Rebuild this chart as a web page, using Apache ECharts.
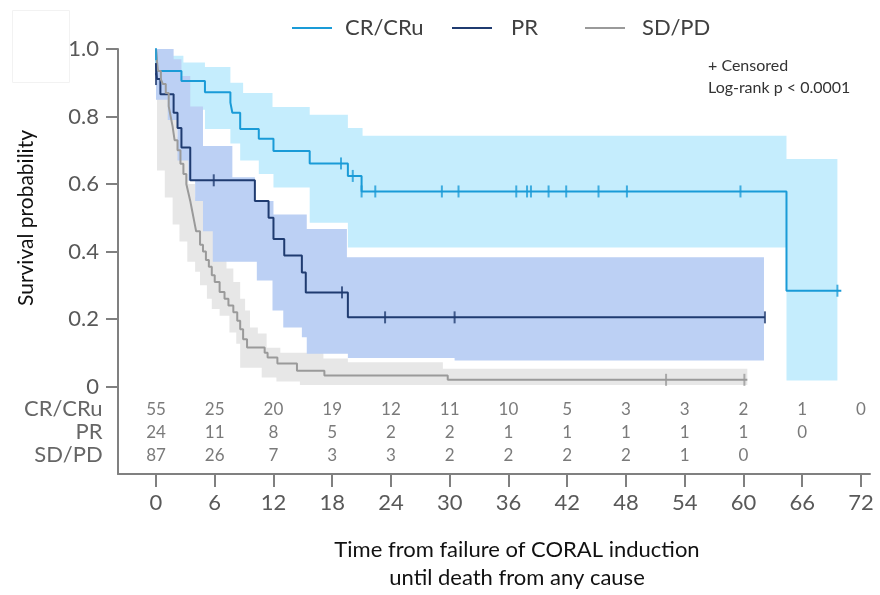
<!DOCTYPE html>
<html><head><meta charset="utf-8">
<script src="https://cdn.jsdelivr.net/npm/echarts@6/dist/echarts.min.js"></script>
<style>html,body{margin:0;padding:0;background:#fff}#c{width:880px;height:595px}</style>
</head><body><div id="c"></div>
<script>
// ---------- data ----------
const groupNames = ['CR/CRu', 'PR', 'SD/PD'];

// Kaplan-Meier step curves: [time (months), survival]
const crCurve = [[0,1.0],[0.1,0.935],[2.6,0.905],[5.0,0.872],[7.6,0.841],[7.8,0.811],[8.6,0.763],[10.5,0.734],[12.0,0.698],[15.7,0.661],[19.6,0.624],[21.0,0.578],[64.4,0.284]];
const crEnd = 70.0;
const prCurve = [[0,0.958],[0.1,0.911],[0.45,0.866],[1.8,0.811],[2.2,0.766],[2.6,0.708],[3.5,0.611],[10.1,0.55],[11.5,0.50],[12.0,0.437],[13.1,0.388],[14.9,0.338],[15.3,0.279],[19.6,0.205]];
const prEnd = 62.2;
const sdCurve = [[0,1.0],[0.1,0.964],[0.2,0.935],[0.5,0.91],[0.7,0.896],[1.0,0.87],[1.3,0.83],[1.5,0.80],[1.7,0.77],[1.9,0.73],[2.2,0.70],[2.5,0.66],[2.8,0.63],[3.1,0.60],[3.3,0.575],[3.5,0.55],[3.7,0.52],[3.9,0.49],[4.1,0.46],[4.5,0.42],[4.8,0.40],[5.1,0.375],[5.4,0.355],[5.7,0.33],[6.0,0.31],[6.5,0.28],[7.0,0.26],[7.4,0.24],[7.9,0.22],[8.3,0.195],[8.6,0.17],[8.9,0.14],[9.3,0.116],[11.1,0.10],[11.4,0.086],[12.4,0.068],[14.4,0.047],[17.2,0.033],[29.8,0.02]];
const sdEnd = 60.4;

// censored observations: [time, survival]
const crCensored = [[0,0.985],[18.9,0.661],[20.1,0.624],[21.0,0.578],[22.4,0.578],[29.2,0.578],[30.9,0.578],[36.8,0.578],[37.9,0.578],[38.3,0.578],[40.1,0.578],[41.9,0.578],[45.2,0.578],[48.1,0.578],[59.7,0.578],[69.6,0.284]];
const prCensored = [[0,0.94],[0,0.911],[5.9,0.611],[19.0,0.279],[23.4,0.205],[30.5,0.205],[62.2,0.205]];
const sdCensored = [[52.1,0.02],[60.1,0.02]];

// confidence bands (step functions): [time, bound]
const crUpper = [[0,0.98],[2.8,0.96],[5.0,0.947],[7.6,0.90],[8.9,0.87],[11.9,0.828],[15.7,0.805],[19.6,0.766],[21.1,0.743],[64.4,0.674]];
const crLower = [[0,0.86],[2.6,0.82],[5.0,0.763],[7.6,0.72],[8.6,0.67],[10.5,0.63],[12.0,0.59],[15.7,0.485],[19.6,0.412],[64.4,0.018]];
const crBandEnd = 69.6;
const prUpper = [[0,1.0],[1.8,0.97],[2.6,0.92],[3.5,0.83],[4.8,0.713],[7.8,0.62],[10.1,0.55],[12.0,0.51],[15.4,0.467],[19.5,0.383]];
const prLower = [[0,0.85],[1.2,0.79],[2.2,0.67],[3.3,0.61],[4.0,0.55],[4.8,0.46],[5.8,0.37],[10.3,0.314],[11.9,0.225],[13.0,0.175],[14.9,0.146],[15.4,0.097],[19.6,0.085],[30.5,0.077]];
const prBandEnd = 62.1;
const sdUpper = [[0,1.0],[0.7,0.97],[1.3,0.93],[1.9,0.86],[2.2,0.74],[2.7,0.69],[3.3,0.60],[4.0,0.56],[4.8,0.52],[5.5,0.48],[6.2,0.45],[6.7,0.40],[7.2,0.35],[7.9,0.31],[8.6,0.26],[9.1,0.225],[9.6,0.175],[10.4,0.157],[11.3,0.115],[12.7,0.10],[17.1,0.083],[19.6,0.072],[29.3,0.053]];
const sdLower = [[0,0.90],[0.1,0.64],[0.9,0.56],[1.7,0.48],[2.4,0.43],[3.2,0.37],[4.0,0.34],[4.5,0.30],[5.2,0.26],[5.7,0.23],[6.5,0.21],[7.5,0.16],[8.2,0.127],[8.6,0.056],[10.8,0.027],[12.3,0.015],[14.7,0.005]];
const sdBandEnd = 60.4;

// number at risk table
const riskTimes = [0,6,12,18,24,30,36,42,48,54,60,66,72];
const crRisk = [55,25,20,19,12,11,10,5,3,3,2,1,0];
const prRisk = [24,11,8,5,2,2,1,1,1,1,1,0];
const sdRisk = [87,26,7,3,3,2,2,2,2,1,0];
const riskRowY = [-0.067, -0.135, -0.203];

const xTicks = [0,6,12,18,24,30,36,42,48,54,60,66,72];
const yTicks = [0,0.2,0.4,0.6,0.8,1.0];

// ---------- styles ----------
const FONT = 'Lato, "Open Sans", sans-serif';
const colors = {
  cr: {line:'#1a9bd7', band:'#c5edfd'},
  pr: {line:'#1f3b70', band:'#bcd0f4'},
  sd: {line:'#9a9a9a', band:'#e7e7e7'}
};

function stepData(curve, end) {
  return curve.concat([[end, curve[curve.length-1][1]]]);
}
function bandPoly(upper, lower, end) {
  const pts = [];
  for (let i = 0; i < upper.length; i++) {
    const tn = i + 1 < upper.length ? upper[i+1][0] : end;
    pts.push([upper[i][0], upper[i][1]], [tn, upper[i][1]]);
  }
  for (let i = lower.length - 1; i >= 0; i--) {
    const tn = i + 1 < lower.length ? lower[i+1][0] : end;
    pts.push([tn, lower[i][1]], [lower[i][0], lower[i][1]]);
  }
  return pts;
}
function bandSeries(upper, lower, end, color, z) {
  const poly = bandPoly(upper, lower, end);
  return {
    type: 'custom', silent: true, z: z, data: [[0, 0]],
    renderItem: function (params, api) {
      return { type: 'polygon', shape: { points: poly.map(p => api.coord(p)) },
               style: { fill: color } };
    }
  };
}
function lineSeries(name, curve, end, color) {
  return { name: name, type: 'line', step: 'end', data: stepData(curve, end),
    showSymbol: false, symbol: 'none', z: 5, silent: true,
    lineStyle: { color: color, width: 2 }, itemStyle: { color: color } };
}
function censorSeries(pts, color) {
  return { type: 'scatter', data: pts, symbol: 'rect', symbolSize: [2, 12], z: 6, silent: true,
    itemStyle: { color: color } };
}
function riskSeries(vals, row) {
  return { type: 'scatter', symbol: 'circle', symbolSize: 1, silent: true, z: 7,
    itemStyle: { color: 'rgba(0,0,0,0)' },
    data: vals.map((v, i) => [riskTimes[i], riskRowY[row], v]),
    label: { show: true, position: 'inside', formatter: p => String(p.value[2]),
      fontFamily: FONT, fontSize: 17, color: '#595959' } };
}
// row titles of the risk table: labels of an invisible scatter placed left of the y axis
const riskTitleX = -5.4;
function riskTitleSeries() {
  return { type: 'scatter', symbol: 'circle', symbolSize: 1, silent: true, z: 7, clip: false,
    itemStyle: { color: 'rgba(0,0,0,0)' },
    data: groupNames.map((n, i) => [riskTitleX, riskRowY[i], n]),
    label: { show: true, position: 'left', distance: 0, formatter: p => p.value[2],
      fontFamily: FONT, fontSize: 22, color: '#404040' } };
}

const chart = echarts.init(document.getElementById('c'), null, { renderer: 'canvas' });
const legendBase = { top: 12, itemWidth: 40, itemHeight: 2, icon: 'rect' };

chart.setOption({
  animation: false,
  backgroundColor: '#fff',
  grid: { left: 118, top: 49, width: 752, height: 425, containLabel: false },
  xAxis: {
    type: 'value', min: -3.88, max: 72.93,
    axisLine: { show: true, onZero: false, lineStyle: { color: '#808080', width: 2 } },
    axisTick: { show: true, customValues: xTicks, length: 13, lineStyle: { color: '#808080', width: 2 } },
    axisLabel: { customValues: xTicks, margin: 18, fontFamily: FONT, fontSize: 22, color: '#595959' },
    splitLine: { show: false }
  },
  yAxis: {
    type: 'value', min: -0.259, max: 1.0,
    axisLine: { show: true, onZero: false, lineStyle: { color: '#808080', width: 2 } },
    axisTick: { show: true, customValues: yTicks, length: 12, lineStyle: { color: '#808080', width: 2 } },
    axisLabel: {
      customValues: yTicks, margin: 19, fontFamily: FONT, fontSize: 22, color: '#595959',
      formatter: v => (Math.abs(v) < 1e-9 ? '0' : v.toFixed(1))
    },
    splitLine: { show: false }
  },
  legend: [
    Object.assign({ left: 287, data: ['CR/CRu'], textStyle: { fontFamily: FONT, fontSize: 22, color: '#404040', padding: [0,0,0,8] } }, legendBase),
    Object.assign({ left: 447, data: ['PR'], textStyle: { fontFamily: FONT, fontSize: 22, color: '#404040', padding: [0,0,0,14] } }, legendBase),
    Object.assign({ left: 580, data: ['SD/PD'], textStyle: { fontFamily: FONT, fontSize: 22, color: '#404040', padding: [0,0,0,12] } }, legendBase)
  ],
  graphic: [
    { type: 'rect', left: 10, top: 8, shape: { width: 57, height: 72 }, style: { fill: 'none', stroke: '#f2f2f2', lineWidth: 1 }, silent: true },
    { type: 'text', left: 708, top: 58, style: { text: '+ Censored', fontFamily: FONT, fontSize: 16, fill: '#333' } },
    { type: 'text', left: 708, top: 80, style: { text: 'Log-rank p < 0.0001', fontFamily: FONT, fontSize: 16, fill: '#333' } },
    { type: 'text', x: 26, y: 218, rotation: Math.PI / 2, style: { text: 'Survival probability', fontFamily: FONT, fontSize: 21, fill: '#111', align: 'center', verticalAlign: 'middle' } },
    { type: 'text', x: 517, y: 550, style: { text: 'Time from failure of CORAL induction', fontFamily: FONT, fontSize: 22, fill: '#111', align: 'center', verticalAlign: 'middle' } },
    { type: 'text', x: 517, y: 578, style: { text: 'until death from any cause', fontFamily: FONT, fontSize: 22, fill: '#111', align: 'center', verticalAlign: 'middle' } }
  ],
  series: [
    bandSeries(sdUpper, sdLower, sdBandEnd, colors.sd.band, 1),
    bandSeries(crUpper, crLower, crBandEnd, colors.cr.band, 2),
    bandSeries(prUpper, prLower, prBandEnd, colors.pr.band, 3),
    lineSeries('CR/CRu', crCurve, crEnd, colors.cr.line),
    lineSeries('PR', prCurve, prEnd, colors.pr.line),
    lineSeries('SD/PD', sdCurve, sdEnd, colors.sd.line),
    censorSeries(crCensored, colors.cr.line),
    censorSeries(prCensored, colors.pr.line),
    censorSeries(sdCensored, colors.sd.line),
    riskSeries(crRisk, 0),
    riskSeries(prRisk, 1),
    riskSeries(sdRisk, 2),
    riskTitleSeries()
  ]
});
</script></body></html>
